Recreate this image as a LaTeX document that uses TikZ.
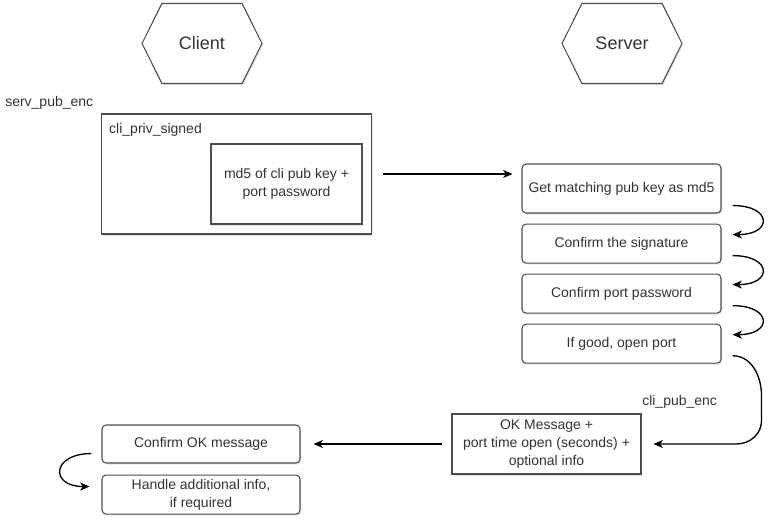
\documentclass[tikz,border=0pt]{standalone}
\usepackage{fontspec}
\setmainfont{Liberation Sans}
\usepackage{xcolor}
\definecolor{line}{HTML}{4D4D4D}
\definecolor{ink}{HTML}{333333}
\usetikzlibrary{arrows.meta,positioning,shapes.symbols,shadows}
\tikzset{
  >={Stealth[length=7pt,width=6pt,inset=2pt]},
  dshadow/.style={drop shadow={shadow xshift=1pt,shadow yshift=-1.2pt,opacity=0.1,fill=black}},
  box/.style={draw=line,line width=0.8pt,fill=white,dshadow,font=\fontsize{10.5}{13.5}\selectfont\color{ink},align=center,inner sep=2pt},
  rbox/.style={box,rounded corners=3pt,minimum width=149.25pt,minimum height=29.25pt},
  hexa/.style={box,signal,signal to=west and east,signal pointer angle=127,minimum width=90pt,minimum height=60pt,font=\fontsize{13.5}{16}\selectfont\color{ink}},
  lab/.style={font=\fontsize{10.5}{13.5}\selectfont\color{ink},inner sep=0pt},
  arr/.style={->,draw=black,line width=1pt},
}

\begin{document}
\begin{tikzpicture}[x=0.75pt,y=-0.75pt,node distance=7.5pt]
\useasboundingbox (0,0) rectangle (772,525);
\node[hexa] (client) at (202,43.5) {Client};
\node[hexa] (server) at (622,43.5) {Server};

\node[box,minimum width=202.5pt,minimum height=90pt] (signed) at (236.5,174) {};
\node[lab,anchor=west] (servenc) at (5,103) {serv\_pub\_enc};
\node[lab,anchor=north west] (privsig) at ([shift={(8,10)}]signed.north west) {cli\_priv\_signed};
\node[box,minimum width=113.25pt,minimum height=60pt] (md5) at (286.5,184) {md5 of cli pub key +\\port password};

\node[rbox,minimum height=36.75pt] (match) at (621.5,188.5) {Get matching pub key as md5};
\node[rbox,below=of match] (sig) {Confirm the signature};
\node[rbox,below=of sig] (pw) {Confirm port password};
\node[rbox,below=of pw] (open) {If good, open port};

\node[box,minimum width=141.75pt,minimum height=45pt] (okmsg) at (546.5,444) {OK Message +\\port time open (seconds) +\\optional info};
\node[lab,anchor=west] (pubenc) at (642,402) {cli\_pub\_enc};
\node[rbox,minimum width=148.5pt,minimum height=28.5pt] (confirm) at (201,444) {Confirm OK message};
\node[rbox,minimum width=148.5pt,below=8.25pt of confirm] (extra) {Handle additional info,\\if required};

\draw[arr,shorten <=8.25pt,shorten >=6.75pt] (signed.east) -- (match.west |- signed.east);
\draw[arr] ([shift={(11,-8)}]match.south east) .. controls +(40,0) and +(40,0) .. ([shift={(11,11)}]sig.north east);
\draw[arr] ([shift={(11,-8)}]sig.south east) .. controls +(40,0) and +(40,0) .. ([shift={(11,11)}]pw.north east);
\draw[arr] ([shift={(11,-8)}]pw.south east) .. controls +(40,0) and +(40,0) .. ([shift={(11,11)}]open.north east);
\draw[arr] ([shift={(11,-8)}]open.south east) to[out=0,in=90] ++(29,40) -- ++(0,25) to[out=-90,in=0] ([shift={(95,0)}]okmsg.east) -- ([shift={(12,0)}]okmsg.east);
\draw[arr,shorten <=6.75pt,shorten >=9.75pt] (okmsg.west) -- (confirm.east);
\draw[arr] ([shift={(-10,-10)}]confirm.south west) .. controls +(-40,0) and +(-40,0) .. ([shift={(-12,12)}]extra.north west);
\end{tikzpicture}
\end{document}
